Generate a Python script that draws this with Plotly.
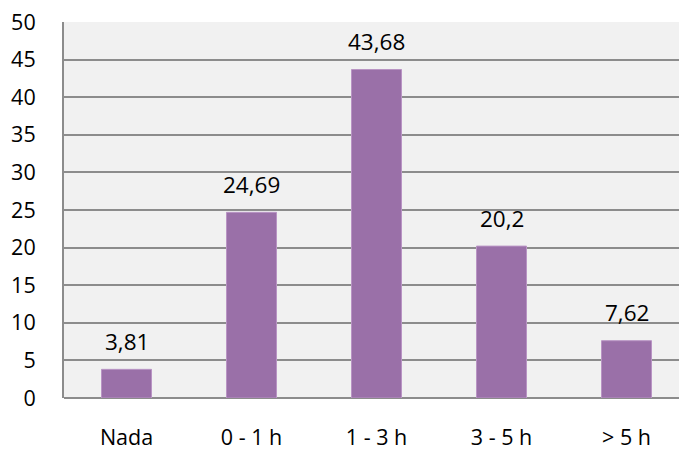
import plotly.graph_objects as go

categories = ["Nada", "0 - 1 h", "1 - 3 h", "3 - 5 h", "> 5 h"]
values = [3.81, 24.69, 43.68, 20.2, 7.62]
y_ticks = [0, 5, 10, 15, 20, 25, 30, 35, 40, 45, 50]

labels = [str(v).replace(".", ",") for v in values]

FONT = "Open Sans"
FS = 21.5
FS_LBL = 22.5
fig = go.Figure(go.Bar(
    x=categories, y=values, width=0.4,
    marker=dict(color="#9A70A8", line=dict(color="#B994C4", width=1)),
))
for c, v, t in zip(categories, values, labels):
    fig.add_annotation(x=c, y=v, text=t, showarrow=False, yanchor="middle",
                       yshift=28, font=dict(family=FONT, size=FS_LBL, color="#000000"))

fig.update_layout(
    width=679, height=450,
    margin=dict(l=64, r=0, t=22, b=52),
    paper_bgcolor="white", plot_bgcolor="#F1F1F1",
    showlegend=False,
    font=dict(family=FONT, size=FS, color="#000000"),
)
fig.update_xaxes(
    range=[-0.5, 4.42], showgrid=False, zeroline=False, automargin=False,
    showline=False, ticks="outside", ticklen=20, tickcolor="rgba(0,0,0,0)",
    tickfont=dict(family=FONT, size=FS),
)
fig.update_yaxes(
    range=[0, 50], tickvals=y_ticks, showgrid=True, gridcolor="#8C8C8C", gridwidth=2,
    zeroline=True, zerolinecolor="#8C8C8C", zerolinewidth=2, automargin=False,
    showline=True, linecolor="#8C8C8C", linewidth=2,
    ticks="outside", ticklen=22, tickcolor="rgba(0,0,0,0)",
    tickfont=dict(family=FONT, size=FS),
)
fig.write_html("out.html", config={"displayModeBar": False},
               post_script="document.body.style.margin='0';")
